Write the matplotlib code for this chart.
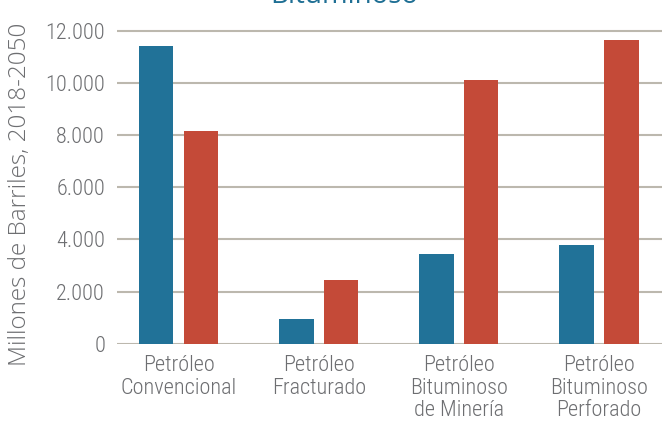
import matplotlib
matplotlib.use("Agg")
import matplotlib.pyplot as plt
import numpy as np
from matplotlib import font_manager

# Data: millions of barrels, 2018-2050
categories = ["Petróleo\nConvencional", "Petróleo\nFracturado",
              "Petróleo\nBituminoso\nde Minería", "Petróleo\nBituminoso\nPerforado"]
serie_azul = [11450, 950, 3450, 3780]
serie_roja = [8170, 2450, 10150, 11680]
yticks = [0, 2000, 4000, 6000, 8000, 10000, 12000]
ytick_labels = ["0", "2.000", "4.000", "6.000", "8.000", "10.000", "12.000"]
ylabel = "Millones de Barriles, 2018-2050"
title = "Bituminoso"


def pick_font(candidates):
    for name in candidates:
        try:
            font_manager.findfont(name, fallback_to_default=False)
            return name
        except Exception:
            continue
    return "DejaVu Sans"


narrow = pick_font(["Liberation Sans Narrow", "Roboto Condensed", "Roboto"])
round_font = pick_font(["Open Sans", "Lato", "Noto Sans"])

BLUE = "#217298"
RED = "#C44A38"
GRID = "#bcb8ae"
TXT = "#6d6e71"

W, H = 662, 422
fig = plt.figure(figsize=(W / 100, H / 100), dpi=100)
ax = fig.add_axes([117 / W, (H - 343.5) / H, (W - 117) / W, 325 / H])

x = np.arange(len(categories))
width = 0.246
off = 0.16
ax.bar(x - off, serie_azul, width, color=BLUE, zorder=2)
ax.bar(x + off, serie_roja, width, color=RED, zorder=2)

ax.set_xlim(-0.44, 3.45)
ax.set_ylim(0, 12500)
ax.set_yticks(yticks)
ax.set_yticklabels(ytick_labels, fontfamily=narrow, fontweight="light",
                   fontsize=16, color=TXT)
ax.set_xticks(x)
ax.set_xticklabels(categories, fontfamily=narrow, fontweight="light",
                   fontsize=16, color=TXT, linespacing=1.12)
ax.tick_params(axis="both", length=0)
ax.tick_params(axis="y", pad=8.6)
ax.tick_params(axis="x", pad=8)

ax.yaxis.grid(True, color=GRID, linewidth=1.5, zorder=0)
ax.set_axisbelow(True)
for s in ax.spines.values():
    s.set_visible(False)

fig.text(20 / W, 1 - 194 / H, ylabel, rotation=90, ha="center", va="center",
         fontfamily=round_font, fontweight="light", fontsize=17.5, color=TXT)
fig.text(344 / W, 1 - 3 / H, title, ha="center", va="baseline",
         fontfamily=round_font, fontsize=20, color="#1f6f94")

fig.savefig("out.png", dpi=100)
